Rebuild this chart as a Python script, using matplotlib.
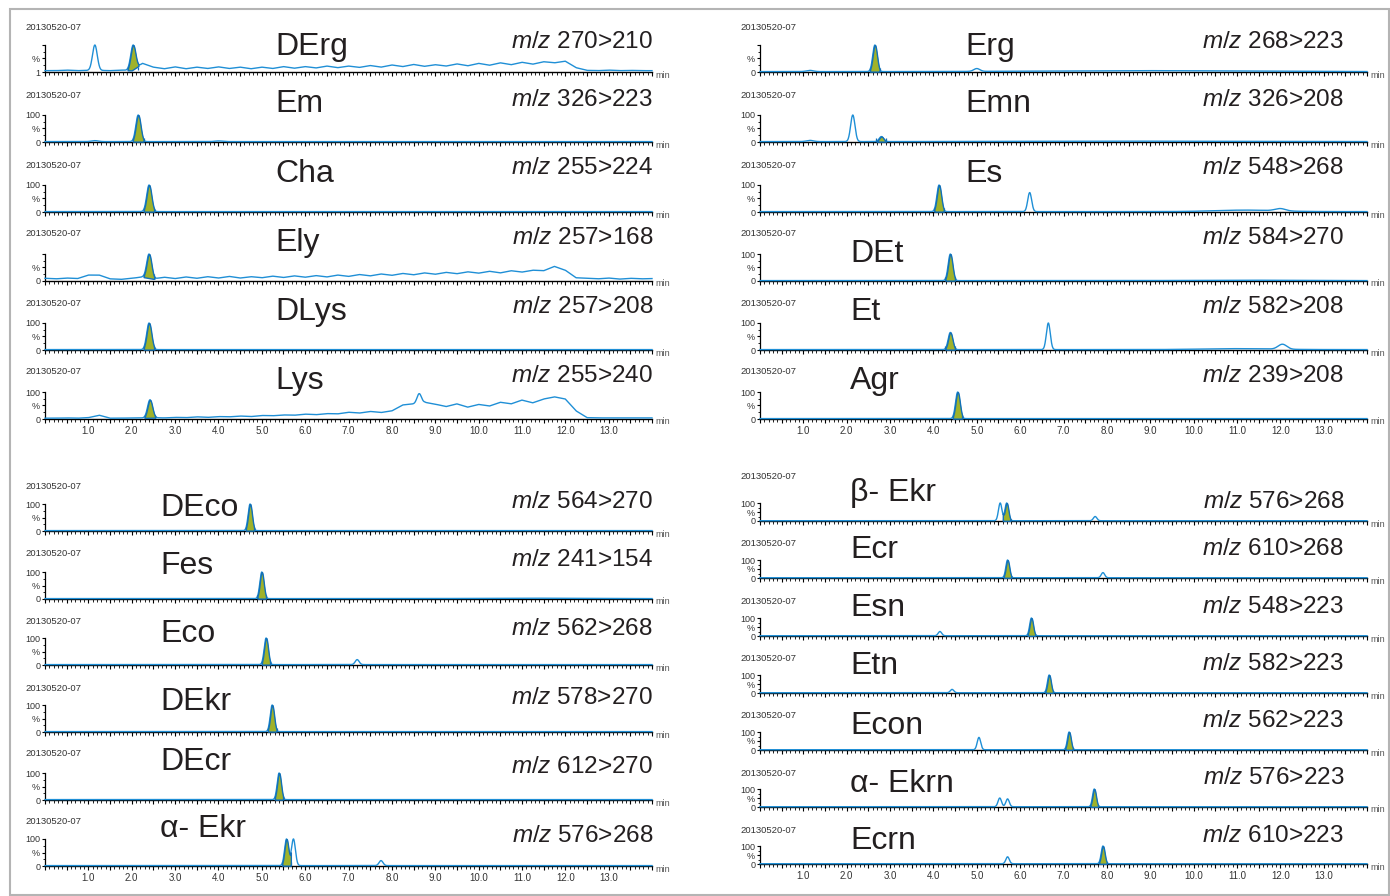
import numpy as np
import matplotlib.pyplot as plt
from matplotlib.ticker import MultipleLocator, FuncFormatter
from matplotlib.patches import Rectangle

plt.rcParams['font.family'] = ['Liberation Sans', 'DejaVu Sans']
plt.rcParams['mathtext.fontset'] = 'custom'
plt.rcParams['mathtext.it'] = 'Liberation Sans:italic'
plt.rcParams['mathtext.rm'] = 'Liberation Sans'

W, H = 1390, 896
BLUE = '#1f8fd6'
EDGE = '#1270b8'
GREEN = '#9fb22a'
TXT = '#231f20'

RUN_ID = "20130520-07"
TIME_TICKS = [1.0, 2.0, 3.0, 4.0, 5.0, 6.0, 7.0, 8.0, 9.0, 10.0, 11.0, 12.0, 13.0]

# baselines read every 0.25 min (0 .. 14)
BASE_T = np.arange(0, 14.001, 0.25)
DERG_BASE = [5, 5, 7, 5, 6, 6, 5, 7, 6, 32, 18, 12, 19, 12, 18, 13, 19, 13, 18, 12,
             18, 13, 20, 14, 20, 15, 22, 16, 22, 17, 24, 18, 26, 20, 28, 21, 27, 22, 30, 23,
             32, 25, 34, 27, 36, 29, 38, 34, 40, 16, 6, 5, 7, 5, 6, 5, 5]
ELY_BASE = [10, 8, 11, 9, 22, 22, 8, 6, 10, 15, 8, 14, 9, 15, 10, 16, 11, 17, 11, 16,
            12, 18, 13, 19, 14, 20, 15, 22, 17, 24, 19, 26, 21, 28, 23, 30, 25, 32, 27, 34,
            29, 36, 30, 38, 33, 40, 38, 54, 40, 12, 10, 8, 11, 7, 10, 8, 9]
LYS_BASE = [3, 3, 4, 3, 5, 14, 3, 3, 4, 4, 5, 4, 6, 5, 8, 6, 9, 8, 11, 9,
            13, 12, 15, 14, 18, 16, 20, 19, 25, 22, 28, 24, 30, 52, 56, 62, 55, 46, 56, 44,
            54, 48, 62, 56, 70, 60, 74, 82, 74, 30, 5, 4, 4, 4, 4, 4, 4]

# top left: integrated peak (rt, apex %) and other peaks (rt, apex %, sigma)
TL_NAMES = ["DErg", "Em", "Cha", "Ely", "DLys", "Lys"]
TL_MZ = ["270>210", "326>223", "255>224", "257>168", "257>208", "255>240"]
TL_RT = [2.03, 2.15, 2.40, 2.40, 2.40, 2.42]
TL_HT = [100, 100, 100, 100, 100, 71]
TL_EXTRA = [[(1.15, 100, 0.055)],
            [(1.15, 5, 0.08), (4.0, 4, 0.08)],
            [],
            [],
            [],
            [(8.63, 94, 0.05)]]
TL_BASE = [DERG_BASE, None, None, ELY_BASE, None, LYS_BASE]
TL_YLAB = [["1", "%", ""], None, None, ["0", "%", ""], None, None]

# top right
TR_NAMES = ["Erg", "Emn", "Es", "DEt", "Et", "Agr"]
TR_MZ = ["268>223", "326>208", "548>268", "584>270", "582>208", "239>208"]
TR_RT = [2.65, 2.80, 4.13, 4.39, 4.39, 4.56]
TR_HT = [100, 20, 100, 100, 65, 100]
TR_EXTRA = [[(1.15, 6, 0.08), (5.0, 12, 0.07), (8.8, 5, 2.2)],
            [(1.15, 6, 0.08), (2.14, 100, 0.05), (8.5, 3, 2.5)],
            [(6.22, 72, 0.045), (11.2, 7, 0.7), (12.0, 10, 0.12)],
            [(11.0, 3, 1.0)],
            [(6.65, 100, 0.045), (11.0, 5, 0.8), (12.05, 20, 0.1)],
            []]
TR_BASE = [None, None, None, None, None, None]
TR_YLAB = [["0", "%", ""], None, None, None, None, None]

# bottom left
BL_NAMES = ["DEco", "Fes", "Eco", "DEkr", "DEcr", "α- Ekr"]
BL_MZ = ["564>270", "241>154", "562>268", "578>270", "612>270", "576>268"]
BL_RT = [4.73, 5.00, 5.10, 5.24, 5.40, 5.57]
BL_HT = [100, 100, 100, 100, 100, 100]
BL_EXTRA = [[],
            [(11.0, 3, 1.0)],
            [(7.2, 20, 0.045)],
            [],
            [],
            [(5.73, 100, 0.045), (7.75, 20, 0.045)]]
BL_BASE = [None] * 6
BL_YLAB = [None] * 6

# bottom right
BR_NAMES = ["β- Ekr", "Ecr", "Esn", "Etn", "Econ", "α- Ekrn", "Ecrn"]
BR_MZ = ["576>268", "610>268", "548>223", "582>223", "562>223", "576>223", "610>223"]
BR_RT = [5.69, 5.71, 6.26, 6.67, 7.13, 7.71, 7.91]
BR_HT = [100, 100, 100, 100, 100, 100, 100]
BR_EXTRA = [[(5.54, 100, 0.04), (7.73, 25, 0.04)],
            [(7.91, 30, 0.04)],
            [(4.15, 25, 0.04)],
            [(4.43, 20, 0.04)],
            [(5.05, 70, 0.04)],
            [(5.53, 50, 0.04), (5.71, 45, 0.04)],
            [(5.71, 40, 0.04)]]
BR_BASE = [None] * 7
BR_YLAB = [None] * 7

t = np.arange(0, 14.001, 0.005)


def gauss(rt, sig):
    return np.exp(-0.5 * ((t - rt) / sig) ** 2)


def build_trace(rt, ht, sig, extras, base):
    if base is None:
        b = np.full_like(t, 1.5)
    else:
        b = np.interp(t, BASE_T, base)
    y = b.copy()
    # apex heights are read as total %, so take off the baseline under the apex
    y += (ht - np.interp(rt, t, b)) * gauss(rt, sig)
    for r, a, s in extras:
        y += max(a - np.interp(r, t, b), 0) * gauss(r, s)
    return y, b


def draw_panel(fig, names, mzs, rts, hts, extras, bases, ylabs, lay):
    x0, x1 = lay['x']
    n = len(names)
    for i in range(n):
        zero = lay['zero'][i]
        ax = fig.add_axes([x0 / W, 1 - zero / H, (x1 - x0) / W, lay['h'] / H])
        y, b = build_trace(rts[i], hts[i], lay['sig'], extras[i], bases[i])
        ax.plot(t, y, color=BLUE, lw=1.0, clip_on=False, zorder=3)
        m = np.abs(t - rts[i]) <= 2.3 * lay['sig']
        ax.fill_between(t[m], b[m], y[m], facecolor=GREEN, edgecolor=EDGE, lw=1.0, zorder=4)
        lo, hi = t[m][0], t[m][-1]
        ax.vlines([lo, hi], [b[m][0]] * 2, [b[m][0] + 12] * 2, color=EDGE, lw=0.9, zorder=4)

        ax.set_xlim(0, 14)
        ax.set_ylim(0, 100)
        for s in ['top', 'right']:
            ax.spines[s].set_visible(False)
        ax.spines['left'].set_linewidth(0.9)
        ax.spines['bottom'].set_linewidth(1.0)
        ax.patch.set_alpha(0)

        ax.xaxis.set_major_locator(MultipleLocator(0.5))
        ax.xaxis.set_minor_locator(MultipleLocator(0.1))
        ax.tick_params(axis='x', which='major', length=3.2, width=0.8, pad=2,
                       labelsize=7, labelcolor='#333333')
        ax.tick_params(axis='x', which='minor', length=1.8, width=0.6)
        if i == n - 1:
            ax.xaxis.set_major_formatter(FuncFormatter(
                lambda v, _: f"{v:.1f}" if any(abs(v - k) < 1e-6 for k in TIME_TICKS) else ""))
        else:
            ax.set_xticklabels([])

        ax.set_yticks([0, 50, 100])
        ax.set_yticks([25, 75], minor=True)
        ax.set_yticklabels(ylabs[i] if ylabs[i] else ["0", "%", "100"])
        ax.tick_params(axis='y', which='major', length=2.5, width=0.8, pad=1,
                       labelsize=6.5, labelcolor='#333333')
        ax.tick_params(axis='y', which='minor', length=1.5, width=0.6)

        fig.text((x1 + 3) / W, 1 - (zero + 3) / H, "min", fontsize=6.5,
                 color='#555555', va='center', ha='left')
        fig.text(lay['run_x'] / W, 1 - lay['run'][i] / H, RUN_ID, fontsize=6.8,
                 color='#333333', va='center', ha='left')
        fig.text(lay['name_x'][i] / W, 1 - lay['name'][i] / H, names[i], fontsize=23,
                 color=TXT, va='center', ha='left')
        fig.text(lay['mz_x'] / W, 1 - lay['mz'][i] / H, r"$\it{m/z}$ " + mzs[i],
                 fontsize=17.5, color=TXT, va='center', ha='right')


fig = plt.figure(figsize=(W / 100, H / 100), dpi=100)
fig.patches.append(Rectangle((10 / W, 1 - 895 / H), 1379 / W, 886 / H, transform=fig.transFigure,
                             fill=False, edgecolor='#b4b4b4', lw=1.5))

TL_LAY = dict(x=(45, 652), h=27, sig=0.055, zero=[72, 142, 212, 281, 350, 419],
              run_x=25, run=[27, 96, 165, 234, 303, 372],
              name_x=[275] * 6, name=[47, 104, 174, 243, 312, 381],
              mz_x=653, mz=[42, 100, 168, 238, 307, 376])
TR_LAY = dict(x=(760, 1367), h=27, sig=0.05, zero=[72, 142, 212, 281, 350, 419],
              run_x=740, run=[27, 96, 165, 234, 303, 372],
              name_x=[965, 965, 965, 850, 850, 850], name=[47, 104, 174, 254, 312, 381],
              mz_x=1344, mz=[42, 100, 168, 238, 307, 376])
BL_LAY = dict(x=(45, 652), h=27, sig=0.045, zero=[531, 599, 665, 732, 800, 866],
              run_x=25, run=[486, 553, 621, 688, 754, 821],
              name_x=[160] * 6, name=[508, 566, 634, 702, 762, 829],
              mz_x=653, mz=[502, 560, 629, 698, 767, 836])
BR_LAY = dict(x=(760, 1367), h=18, sig=0.04, zero=[521, 578, 636, 693, 750, 807, 864],
              run_x=740, run=[476, 543, 601, 658, 715, 773, 830],
              name_x=[850] * 7, name=[493, 550, 608, 666, 726, 784, 841],
              mz_x=1344, mz=[502, 549, 607, 664, 721, 778, 836])

draw_panel(fig, TL_NAMES, TL_MZ, TL_RT, TL_HT, TL_EXTRA, TL_BASE, TL_YLAB, TL_LAY)
draw_panel(fig, TR_NAMES, TR_MZ, TR_RT, TR_HT, TR_EXTRA, TR_BASE, TR_YLAB, TR_LAY)
draw_panel(fig, BL_NAMES, BL_MZ, BL_RT, BL_HT, BL_EXTRA, BL_BASE, BL_YLAB, BL_LAY)
draw_panel(fig, BR_NAMES, BR_MZ, BR_RT, BR_HT, BR_EXTRA, BR_BASE, BR_YLAB, BR_LAY)

fig.savefig("out.png", dpi=100)
